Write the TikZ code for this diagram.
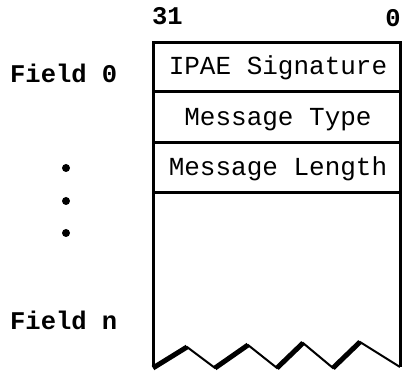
\documentclass[tikz,border=0pt]{standalone}
\usepackage{fontspec}
\setmonofont{Liberation Mono}
\begin{document}
\begin{tikzpicture}[x=1pt,y=-1pt,
  fieldtxt/.style={font=\ttfamily\fontsize{26}{30}\selectfont, inner sep=0pt, anchor=base},
  lbl/.style={font=\ttfamily\bfseries\fontsize{25.5}{30}\selectfont, inner sep=0pt, anchor=base west},
  boxline/.style={line width=3pt},
  dotm/.style={circle, fill=black, inner sep=0pt, minimum size=8pt}]
\useasboundingbox (0,0) rectangle (408,374);
% box frame
\draw[boxline] (153,367) -- (153,43) -- (400,43) -- (400,367);
\draw[boxline] (153,92) -- (400,92);
\draw[boxline] (153,143) -- (400,143);
\draw[boxline] (153,193) -- (400,193);
% zigzag bottom
\draw[line width=2pt, line join=miter] (153,367) -- (187,347) -- (215,368) -- (248,345) -- (277,368) -- (303,343) -- (333,368) -- (360,342) -- (400,367);
\draw[line width=5pt] (153,368) -- (187,347);
\draw[line width=5pt] (215,368) -- (248,345);
\draw[line width=5pt] (277,368) -- (303,343);
\draw[line width=5pt] (333,368) -- (360,342);
% texts
\node[fieldtxt] (sig) at (278,75) {IPAE Signature};
\node[fieldtxt] (typ) at (278,126) {Message Type};
\node[fieldtxt] (len) at (278,176) {Message Length};
\node[lbl] (b31) at (152,25) {31};
\node[lbl, anchor=base east] (b0) at (401,27) {0};
\node[lbl] (f0) at (10,83) {Field 0};
\node[lbl] (fn) at (10,330) {Field n};
\node[dotm] (d1) at (66,168) {};
\node[dotm] (d2) at (66,201) {};
\node[dotm] (d3) at (66,233) {};
\end{tikzpicture}
\end{document}
